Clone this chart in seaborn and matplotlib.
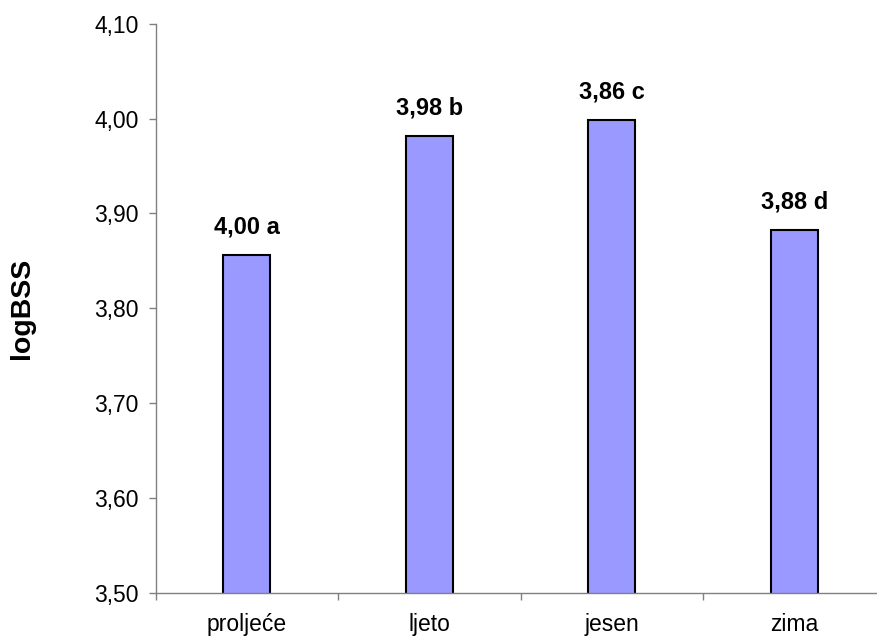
import matplotlib
matplotlib.use("Agg")
import matplotlib.pyplot as plt
import matplotlib.ticker as mticker
import seaborn as sns
import pandas as pd

categories = ["proljeće", "ljeto", "jesen", "zima"]
values = [3.856, 3.982, 3.998, 3.882]
bar_labels = ["4,00 a", "3,98 b", "3,86 c", "3,88 d"]
y_ticks = [3.50, 3.60, 3.70, 3.80, 3.90, 4.00, 4.10]

sns.set_theme(style="white")
plt.rcParams["font.family"] = ["Liberation Sans", "DejaVu Sans"]
plt.rcParams["text.color"] = "black"
plt.rcParams["axes.labelcolor"] = "black"
plt.rcParams["xtick.labelcolor"] = "black"
plt.rcParams["ytick.labelcolor"] = "black"

df = pd.DataFrame({"season": categories, "logBSS": values})

fig = plt.figure(figsize=(8.77, 6.37), dpi=100)
ax = fig.add_axes([155.5 / 877, (637 - 592.7) / 637, 730 / 877, (592.7 - 23.7) / 637])

sns.barplot(data=df, x="season", y="logBSS", ax=ax, color="#9999FF",
            saturation=1, width=0.257, edgecolor="black", linewidth=1.5)

ax.set_ylim(3.50, 4.10)
ax.set_xlim(-0.5, 3.5)
ax.set_yticks(y_ticks)
ax.yaxis.set_major_formatter(mticker.FuncFormatter(lambda v, p: f"{v:.2f}".replace(".", ",")))

ax.set_xticks(range(len(categories)))
ax.set_xticklabels(categories)
ax.set_xticks([-0.5, 0.5, 1.5, 2.5, 3.5], minor=True)
ax.tick_params(axis="x", which="major", length=0, pad=14.5, labelsize=16.5, labelcolor="black")
ax.tick_params(axis="x", which="minor", length=5, width=1, color="#808080", bottom=True)
ax.tick_params(axis="y", which="major", length=5, width=1, color="#808080", left=True,
               pad=7, labelsize=16.5, labelcolor="black")

for s in ["top", "right"]:
    ax.spines[s].set_visible(False)
for s in ["left", "bottom"]:
    ax.spines[s].set_color("#808080")
    ax.spines[s].set_linewidth(1)

ax.set_xlabel("")
ax.set_ylabel("logBSS", fontsize=20.5, fontweight="bold", color="black")
ax.yaxis.set_label_coords(-0.165, 0.5)

for i, (v, t) in enumerate(zip(values, bar_labels)):
    ax.annotate(t, (i, v), xytext=(0, 15.5), textcoords="offset points",
                ha="center", va="baseline", fontsize=17, fontweight="bold", color="black")

fig.savefig("out.png", dpi=100)
